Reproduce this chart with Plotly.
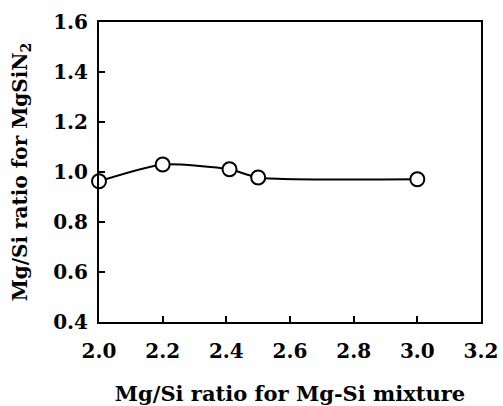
import plotly.graph_objects as go

x_mix = [2.0, 2.2, 2.41, 2.5, 3.0]
y_ratio = [0.963, 1.030, 1.011, 0.978, 0.971]
x_ticks = [2.0, 2.2, 2.4, 2.6, 2.8, 3.0, 3.2]
y_ticks = [0.4, 0.6, 0.8, 1.0, 1.2, 1.4, 1.6]

FONT = "DejaVu Serif"

fig = go.Figure()
fig.add_trace(go.Scatter(
    x=x_mix, y=y_ratio, mode="lines+markers",
    line=dict(color="black", width=2, shape="spline", smoothing=0.6),
    marker=dict(symbol="circle", size=14, color="white",
                line=dict(color="black", width=2)),
    cliponaxis=False, showlegend=False,
))

axis_common = dict(
    showline=True, linecolor="black", linewidth=2, mirror=True,
    ticks="inside", ticklen=6, tickwidth=1.5, tickcolor="black",
    showgrid=False, zeroline=False, automargin=False,
    tickfont=dict(family=FONT, size=20, color="black", weight="bold"),
)

fig.update_layout(
    width=503, height=406,
    margin=dict(l=99, r=22, t=22, b=84),
    paper_bgcolor="white", plot_bgcolor="white",
    font=dict(family=FONT, color="black"),
    xaxis=dict(
        range=[2.0, 3.2], tickvals=x_ticks,
        ticktext=[f"{v:.1f}" for v in x_ticks],
        ticklabelstandoff=10,
        title=dict(text="Mg/Si ratio for Mg-Si mixture",
                   font=dict(family=FONT, size=21, weight="bold"), standoff=24),
        **axis_common,
    ),
    yaxis=dict(
        range=[0.4, 1.6], tickvals=y_ticks,
        ticktext=[f"{v:.1f}" for v in y_ticks],
        ticklabelstandoff=5,
        title=dict(text="Mg/Si ratio for MgSiN<sub>2</sub>",
                   font=dict(family=FONT, size=20, weight="bold"), standoff=20),
        **axis_common,
    ),
)

fig.write_html("out.html")
